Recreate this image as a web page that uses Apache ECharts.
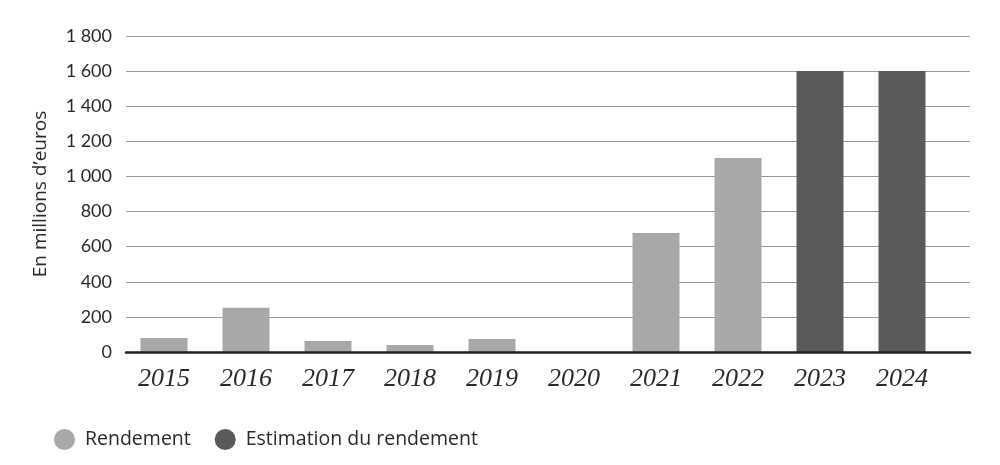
<!DOCTYPE html>
<html>
<head>
<meta charset="utf-8">
<script src="https://cdn.jsdelivr.net/npm/echarts@6/dist/echarts.min.js"></script>
<style>html,body{margin:0;padding:0;background:#fff}#c{width:1000px;height:465px}</style>
</head>
<body>
<div id="c"></div>
<script>
const categories = ['2015','2016','2017','2018','2019','2020','2021','2022','2023','2024'];
const rendement = [80, 252, 63, 40, 74, 0, 678, 1105, null, null];
const estimation = [null, null, null, null, null, null, null, null, 1600, 1600];
const seriesNames = ['Rendement', 'Estimation du rendement'];
const yAxisName = 'En millions d\u2019euros';

function fmt(v){
  if (v >= 1000) { const r = v % 1000; return Math.floor(v/1000) + ' ' + String(r).padStart(3,'0'); }
  return String(v);
}

const chart = echarts.init(document.getElementById('c'), null, {renderer:'canvas'});
chart.setOption({
  animation: false,
  backgroundColor: '#fff',
  legend: {
    left: 49, top: 424, itemGap: 24, itemWidth: 21, itemHeight: 21, icon: 'circle',
    textStyle: {fontFamily: 'Open Sans', fontSize: 19.5, color: '#2a2a2a', padding: [0,0,0,5]},
    data: seriesNames
  },
  grid: [
    {left: 126, right: 30, top: 36, bottom: 113},
    {left: 123, width: 820, top: 36, bottom: 113}
  ],
  xAxis: [
    {gridIndex: 0, type: 'value', min: 0, max: 1, z: 5,
     axisLine: {show: true, onZero: false, lineStyle: {color: '#222', width: 2.5}},
     axisTick: {show: false}, axisLabel: {show: false}, splitLine: {show: false}},
    {gridIndex: 1, type: 'category', data: categories,
     axisLine: {show: false}, axisTick: {show: false},
     axisLabel: {fontFamily: 'Liberation Serif', fontStyle: 'italic', fontSize: 26, color: '#2a2a2a', margin: 14}}
  ],
  yAxis: [
    {gridIndex: 0, type: 'value', min: 0, max: 1800, interval: 200,
     name: yAxisName, nameLocation: 'middle', nameGap: 76, nameRotate: 90,
     nameTextStyle: {fontFamily: 'Open Sans', fontSize: 19, color: '#2a2a2a'},
     axisLine: {show: false}, axisTick: {show: false},
     axisLabel: {formatter: fmt, fontFamily: 'Lato', fontSize: 18, color: '#2a2a2a', margin: 14},
     splitLine: {lineStyle: {color: '#9a9a9a', width: 1}}},
    {gridIndex: 1, type: 'value', min: 0, max: 1800, interval: 200, show: false,
     splitLine: {show: false}}
  ],
  series: [
    {name: seriesNames[0], type: 'bar', xAxisIndex: 1, yAxisIndex: 1, stack: 's',
     data: rendement, barWidth: 47, itemStyle: {color: '#a8a8a8'}},
    {name: seriesNames[1], type: 'bar', xAxisIndex: 1, yAxisIndex: 1, stack: 's',
     data: estimation, barWidth: 47, itemStyle: {color: '#5a5a5a'}}
  ]
});
</script>
</body>
</html>
